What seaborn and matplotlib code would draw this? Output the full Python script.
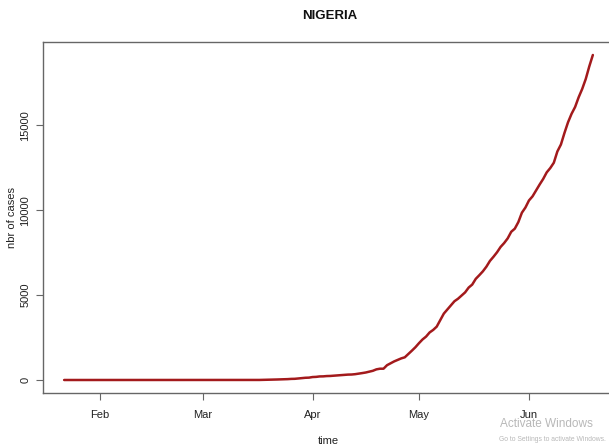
import matplotlib
import matplotlib.dates as mdates
import pandas as pd
import seaborn as sns

matplotlib.use("Agg")

import matplotlib.pyplot as plt

# cumulative confirmed cases, one value per day from 22 Jan to 19 Jun
START_DATE = "2020-01-22"
jan_feb = [0] * 37 + [1, 1]
march = [1, 1, 1, 1, 1, 1, 1, 1, 2, 2, 2, 2, 2, 2, 2, 2,
         3, 8, 8, 12, 22, 30, 40, 44, 51, 65, 70, 89, 111, 131, 139]
april = [174, 184, 210, 214, 232, 238, 254, 276, 288, 305,
         318, 323, 343, 373, 407, 442, 493, 542, 627, 665,
         665, 873, 981, 1095, 1182, 1273, 1337, 1532, 1728, 1932]
may = [2170, 2388, 2558, 2802, 2950, 3145, 3526, 3912, 4151, 4399,
       4641, 4787, 4971, 5162, 5445, 5621, 5959, 6175, 6401, 6677,
       7016, 7261, 7526, 7839, 8068, 8344, 8733, 8915, 9302, 9855, 10162]
june = [10578, 10819, 11166, 11516, 11844, 12233, 12486, 12801, 13464, 13873,
        14554, 15181, 15682, 16085, 16658, 17148, 17735, 18480, 19147]

y_ticks = [0, 5000, 10000, 15000]
month_ticks = ["2020-02-01", "2020-03-01", "2020-04-01", "2020-05-01", "2020-06-01"]


def main() -> None:
    cases = jan_feb + march + april + may + june
    data = pd.DataFrame({
        "time": pd.date_range(START_DATE, periods=len(cases), freq="D"),
        "cases": cases,
    })

    sns.set_style("ticks")
    plt.rcParams["font.family"] = ["Liberation Sans", "DejaVu Sans"]

    fig = plt.figure(figsize=(6.09, 4.48), dpi=100)
    ax = fig.add_axes([43 / 609, 1 - 393 / 448, 571 / 609, 351 / 448])

    sns.lineplot(data=data, x="time", y="cases", color="#a31a1c", linewidth=1.8, ax=ax)

    # R style 4% padding on both axes
    t0, t1 = data["time"].min(), data["time"].max()
    pad = (t1 - t0) * 0.04
    ax.set_xlim(t0 - pad, t1 + pad)
    ymax = max(cases)
    ax.set_ylim(-0.04 * ymax, ymax * 1.04)

    ax.set_xticks(pd.to_datetime(month_ticks))
    ax.xaxis.set_major_formatter(mdates.DateFormatter("%b"))
    ax.set_yticks(y_ticks)
    ax.set_yticklabels([str(v) for v in y_ticks], rotation=90, va="center")

    for side in ["top", "right", "left", "bottom"]:
        ax.spines[side].set_visible(True)
        ax.spines[side].set_color("#666666")
        ax.spines[side].set_linewidth(1.0)
    ax.tick_params(axis="both", direction="out", length=5, width=0.8,
                   color="#666666", labelsize=8, labelcolor="#222222")
    ax.tick_params(axis="x", pad=7)
    ax.tick_params(axis="y", pad=4)

    ax.set_xlabel("time", fontsize=8, color="#222222")
    ax.set_ylabel("nbr of cases", fontsize=8, color="#222222")
    ax.xaxis.set_label_coords((328 - 43) / 571, (393 - 436) / 351)
    ax.yaxis.set_label_coords((17 - 43) / 571, 0.5)
    fig.text(330 / 609, 1 - 16 / 448, "NIGERIA", ha="center", va="center",
             fontsize=9.5, fontweight="bold", color="#111111")

    fig.text(500 / 609, 1 - 424 / 448, "Activate Windows", ha="left", va="center",
             fontsize=8.5, color="#b8b8b8")
    fig.text(499 / 609, 1 - 439 / 448, "Go to Settings to activate Windows.", ha="left",
             va="center", fontsize=4.9, color="#b8b8b8")

    fig.savefig("out.png", dpi=100)
    plt.close(fig)


if __name__ == "__main__":
    main()
